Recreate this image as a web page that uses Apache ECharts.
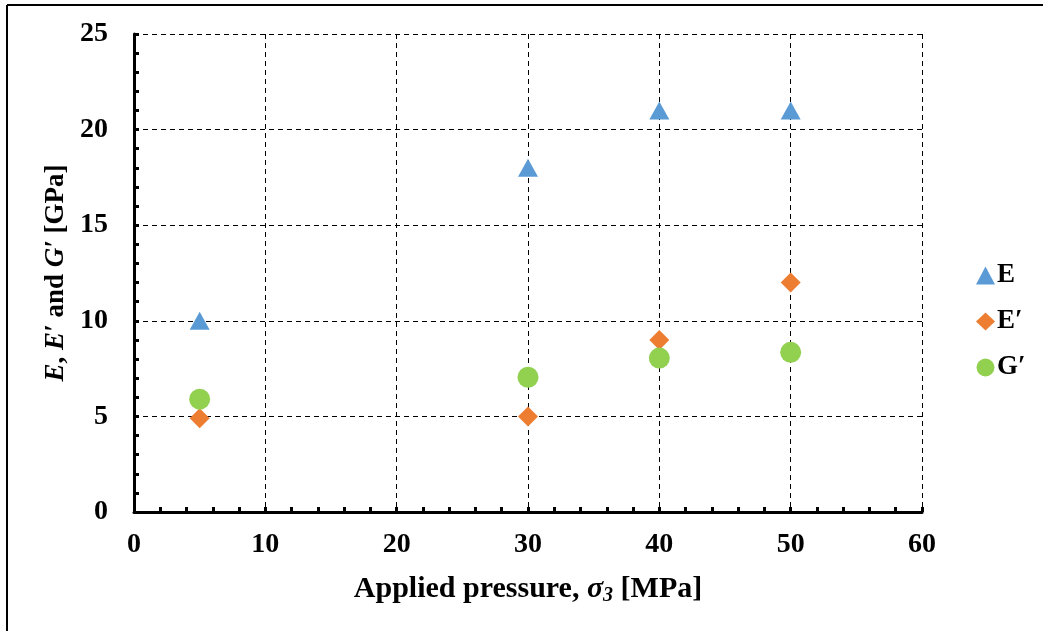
<!DOCTYPE html>
<html>
<head>
<meta charset="utf-8">
<script src="https://cdn.jsdelivr.net/npm/echarts@6/dist/echarts.min.js"></script>
<style>
  html, body { margin: 0; padding: 0; background: #fff; }
  #chart { width: 1043px; height: 631px; }
</style>
</head>
<body>
<div id="chart"></div>
<script>
// Applied confining pressure (MPa) for each test
const pressure = [5, 30, 40, 50];
// Moduli in GPa
const seriesE = [10, 18, 21, 21];
const seriesEp = [4.9, 5.0, 9.0, 12.0];
const seriesGp = [5.9, 7.05, 8.05, 8.35];
const seriesNames = ['E', 'E\u2032', 'G\u2032'];
const colors = ['#5B9BD5', '#ED7D31', '#92D050'];

const FONT = '"Liberation Serif", "Times New Roman", serif';

function pairs(ys) { return pressure.map((x, i) => [x, ys[i]]); }

const chart = echarts.init(document.getElementById('chart'));

const axisCommon = {
  type: 'value',
  axisLine: { show: true, onZero: false, lineStyle: { color: '#000', width: 3 } },
  axisTick: { show: true, inside: true, length: 5, lineStyle: { color: '#000', width: 3 } },
  minorTick: { show: true, splitNumber: 5, length: 5, lineStyle: { color: '#000', width: 3 } },
  splitLine: { show: true, lineStyle: { color: '#000', width: 1, type: [5, 4] } },
  axisLabel: { color: '#000', fontFamily: FONT, fontWeight: 'bold', fontSize: 28 }
};

chart.setOption({
  backgroundColor: '#fff',
  animation: false,
  grid: { left: 134, right: 121, top: 34, bottom: 119 },
  xAxis: Object.assign({}, axisCommon, {
    min: 0, max: 60, interval: 10,
    axisLabel: Object.assign({}, axisCommon.axisLabel, { margin: 19 }),
    name: '{b|Applied pressure, }{i|\u03C3}{s|3}{b| [MPa]}',
    nameLocation: 'middle',
    nameGap: 61,
    nameTextStyle: {
      rich: {
        b: { fontFamily: FONT, fontWeight: 'bold', fontSize: 30, color: '#000' },
        i: { fontFamily: FONT, fontWeight: 'bold', fontStyle: 'italic', fontSize: 30, color: '#000' },
        s: { fontFamily: FONT, fontWeight: 'bold', fontStyle: 'italic', fontSize: 20, color: '#000', verticalAlign: 'bottom', padding: [13, 0, 0, 0] }
      }
    }
  }),
  yAxis: Object.assign({}, axisCommon, {
    min: 0, max: 25, interval: 5,
    axisLabel: Object.assign({}, axisCommon.axisLabel, { margin: 26 }),
    name: '{i|E}{b|, }{i|E\u2032}{b| and }{i|G\u2032}{b| [GPa]}',
    nameLocation: 'middle',
    nameGap: 60,
    nameTextStyle: {
      rich: {
        b: { fontFamily: FONT, fontWeight: 'bold', fontSize: 27, color: '#000' },
        i: { fontFamily: FONT, fontWeight: 'bold', fontStyle: 'italic', fontSize: 27, color: '#000' }
      }
    }
  }),
  legend: {
    orient: 'vertical',
    left: 971,
    top: 257,
    itemWidth: 19,
    itemHeight: 18,
    itemGap: 19,
    textStyle: { fontFamily: FONT, fontWeight: 'bold', fontSize: 27, color: '#000', padding: [0, 0, 0, -3] },
    data: [
      { name: seriesNames[0], icon: 'triangle' },
      { name: seriesNames[1], icon: 'diamond' },
      { name: seriesNames[2], icon: 'circle' }
    ]
  },
  series: [
    { name: seriesNames[0], type: 'scatter', data: pairs(seriesE), symbol: 'triangle', symbolSize: [20, 18], itemStyle: { color: colors[0], opacity: 1 } },
    { name: seriesNames[1], type: 'scatter', data: pairs(seriesEp), symbol: 'diamond', symbolSize: 20, itemStyle: { color: colors[1], opacity: 1 } },
    { name: seriesNames[2], type: 'scatter', data: pairs(seriesGp), symbol: 'circle', symbolSize: 21, itemStyle: { color: colors[2], opacity: 1 } }
  ],
  graphic: [
    { type: 'line', shape: { x1: 7, y1: 5, x2: 1043, y2: 5 }, style: { stroke: '#000', lineWidth: 2 } },
    { type: 'line', shape: { x1: 7, y1: 5, x2: 7, y2: 631 }, style: { stroke: '#000', lineWidth: 2 } }
  ]
});
</script>
</body>
</html>
